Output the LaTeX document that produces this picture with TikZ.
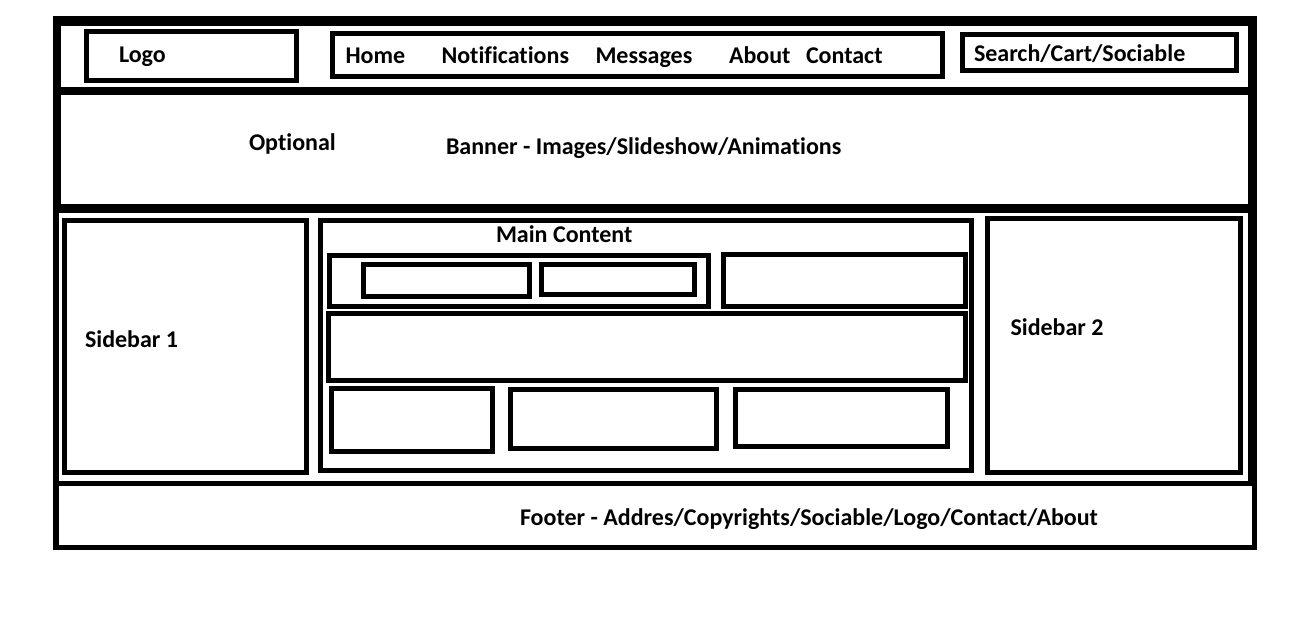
\documentclass[tikz,border=0pt]{standalone}
\usepackage{fontspec}
\setmainfont{Carlito}[Ligatures={NoCommon,NoContextual}]
\begin{document}
\begin{tikzpicture}[x=1pt,y=-1pt,
  band/.style={fill=black},
  box/.style={draw=black,line width=5pt,line join=miter},
  lbl/.style={anchor=base west,inner sep=0pt,outer sep=0pt,font=\fontsize{24}{28}\selectfont\bfseries}]
\useasboundingbox[fill=white] (0,0) rectangle (1290,624);
% outer frame bands
\fill[band] (53,16) rectangle (1257,26);
\fill[band] (53,16) rectangle (61,213);
\fill[band] (53,213) rectangle (59,550);
\fill[band] (1248,16) rectangle (1257,486);
\fill[band] (1252,481) rectangle (1257,550);
\fill[band] (53,87) rectangle (1257,95);
\fill[band] (53,204) rectangle (1257,213);
\fill[band] (53,481) rectangle (1257,486);
\fill[band] (53,545) rectangle (1257,550);
% header boxes
\draw[box] (86.5,31.5) rectangle (296.5,80.5);
\draw[box] (332.5,33.5) rectangle (942.5,76.5);
\draw[box] (962.5,34.5) rectangle (1236.5,70.5);
% columns
\draw[box] (64.5,220.5) rectangle (306.5,472.5);
\draw[box] (320.5,220.5) rectangle (971.5,470.5);
\draw[box] (987.5,218.5) rectangle (1240.5,472.5);
% main content inner boxes
\draw[box] (329.5,255.5) rectangle (708.5,306.5);
\draw[box] (363.5,264.5) rectangle (529.5,296.5);
\draw[box] (541.5,264.5) rectangle (694.5,294.5);
\draw[box] (723.5,254.5) rectangle (965.5,306.5);
\draw[box] (328.5,313.5) rectangle (965.5,380.5);
\draw[box] (331.5,388.5) rectangle (492.5,451.5);
\draw[box] (510.5,389.5) rectangle (716.5,448.5);
\draw[box] (735.5,389.5) rectangle (947.5,446.5);
% labels
\node[lbl] (logo) at (119,62.3) {Logo};
\node[lbl] (home) at (345.5,63.3) {Home};
\node[lbl] (notif) at (441.5,63.3) {Notifications};
\node[lbl] (msg) at (595.5,63.3) {Messages};
\node[lbl] (about) at (729,63.3) {About};
\node[lbl] (contact) at (806,63.3) {Contact};
\node[lbl] (search) at (974,61.7) {Search/Cart/Sociable};
\node[lbl] (optional) at (249,150) {Optional};
\node[lbl] (banner) at (446,154) {Banner - Images/Slideshow/Animations};
\node[lbl] (maincontent) at (496,242.7) {Main Content};
\node[lbl] (side1) at (85,347) {Sidebar 1};
\node[lbl] (side2) at (1010.5,335.7) {Sidebar 2};
\node[lbl] (footer) at (520,525) {Footer - Addres/Copyrights/Sociable/Logo/Contact/About};
\end{tikzpicture}
\end{document}
